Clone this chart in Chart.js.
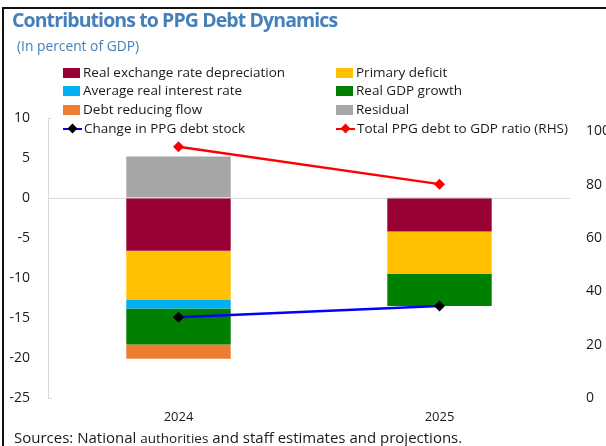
<!DOCTYPE html>
<html>
<head>
<meta charset="utf-8">
<script src="https://cdn.jsdelivr.net/npm/chart.js@4.4.1/dist/chart.umd.min.js"></script>
<style>
  html, body { margin: 0; padding: 0; width: 606px; height: 446px; overflow: hidden; background: #fff; font-family: "Open Sans", sans-serif; }
  #wrap { position: relative; width: 606px; height: 446px; }
  #chart { position: absolute; left: 0; top: 0; }
  #frame { position: absolute; left: 2px; top: 7px; width: 640px; height: 480px; border-left: 2px solid #111; border-top: 2px solid #111; pointer-events: none; }
  #title { position: absolute; left: 12px; top: 6px; font-size: 19.5px; font-weight: 700; color: #4580BB; white-space: nowrap; letter-spacing: -0.9px; }
  #subtitle { position: absolute; left: 17px; top: 36px; font-size: 13.8px; color: #4580BB; white-space: nowrap; }
  #legend .item { position: absolute; white-space: nowrap; font-size: 13.5px; color: #1a1a1a; line-height: 18px; height: 18px; }
  .sw { display: inline-block; width: 17px; height: 10px; vertical-align: -1px; margin-right: 3px; }
  .ln { display: inline-block; position: relative; width: 19px; height: 10px; vertical-align: -1px; margin-right: 2px; }
  .ln i { position: absolute; left: 0; right: 0; top: 4px; height: 2px; }
  .ln b { position: absolute; left: 6px; top: 1px; width: 7px; height: 7px; transform: rotate(45deg); }
  #source { position: absolute; left: 14px; top: 427px; font-size: 15px; color: #1a1a1a; white-space: nowrap; }
  #source span { font-size: 13.5px; }
</style>
</head>
<body>
<div id="wrap">
  <canvas id="chart" width="606" height="446"></canvas>
  <div id="title">Contributions to PPG Debt Dynamics</div>
  <div id="subtitle">(In percent of GDP)</div>
  <div id="legend"></div>
  <div id="source">Sources: National <span>authorities</span> and staff estimates and projections.</div>
  <div id="frame"></div>
</div>
<script>
// Years on the category axis
const categories = ['2024', '2025'];

// Contributions to the change in PPG debt (percent of GDP)
const realExchangeRate = [-6.6, -4.2];
const primaryDeficit   = [-6.1, -5.3];
const avgRealInterest  = [-1.1, 0.1];
const realGdpGrowth    = [-4.5, -4.0];
const debtReducingFlow = [-1.8, 0];
const residual         = [5.2, 0];

// Lines
const changeInDebtStock = [-14.9, -13.5];   // left axis
const totalDebtToGdp    = [94.2, 80.2];     // right axis (RHS)

// Axis tick values
const leftTicks  = [10, 5, 0, -5, -10, -15, -20, -25];
const rightTicks = [0, 20, 40, 60, 80, 100];

const TEXT = '#1a1a1a';
const AXIS_GREY = '#D9D9D9';

const barSeries = [
  { label: 'Real exchange rate depreciation', data: realExchangeRate, color: '#990033' },
  { label: 'Primary deficit',                 data: primaryDeficit,   color: '#FFC000' },
  { label: 'Average real interest rate',      data: avgRealInterest,  color: '#00B0F0' },
  { label: 'Real GDP growth',                 data: realGdpGrowth,    color: '#008000' },
  { label: 'Debt reducing flow',              data: debtReducingFlow, color: '#ED7D31' },
  { label: 'Residual',                        data: residual,         color: '#A6A6A6' }
];

const lineSeries = [
  { label: 'Change in PPG debt stock',             data: changeInDebtStock, line: '#0000FF', point: '#000000', axis: 'y' },
  { label: 'Total PPG debt to GDP ratio (RHS)',    data: totalDebtToGdp,    line: '#FF0000', point: '#FF0000', axis: 'y2' }
];

const datasets = [];
barSeries.forEach(s => datasets.push({
  type: 'bar', label: s.label, data: s.data, backgroundColor: s.color,
  borderWidth: 0, stack: 'contrib', order: 2,
  categoryPercentage: 1, barPercentage: 0.4, yAxisID: 'y'
}));
lineSeries.forEach((s, i) => datasets.push({
  type: 'line', label: s.label, data: s.data, yAxisID: s.axis,
  borderColor: s.line, borderWidth: 2.5, backgroundColor: s.point,
  pointStyle: 'rectRot', pointRadius: 5.5, pointBackgroundColor: s.point,
  pointBorderColor: s.point, pointBorderWidth: 0, fill: false, tension: 0,
  stack: 'line' + i, order: 1
}));

// Two-column legend, built from the series definitions
const legendOrder = [
  [barSeries[0], barSeries[1]],
  [barSeries[2], barSeries[3]],
  [barSeries[4], barSeries[5]],
  [lineSeries[0], lineSeries[1]]
];
const legendRowsY = [72, 90, 109, 128];
const legendColsX = [63, 336];
const legendEl = document.getElementById('legend');
legendOrder.forEach((row, r) => row.forEach((s, c) => {
  const el = document.createElement('div');
  el.className = 'item';
  el.style.left = legendColsX[c] + 'px';
  el.style.top = (legendRowsY[r] - 9) + 'px';
  let marker;
  if (s.line) {
    marker = '<span class="ln"><i style="background:' + s.line + '"></i><b style="background:' + s.point + '"></b></span>';
  } else {
    marker = '<span class="sw" style="background:' + s.color + '"></span>';
  }
  el.innerHTML = marker;
  el.appendChild(document.createTextNode(s.label));
  legendEl.appendChild(el);
}));

// Short end ticks on the left axis line
const axisEnds = {
  id: 'axisEnds',
  afterDraw(chart) {
    const { ctx, chartArea } = chart;
    ctx.save();
    ctx.strokeStyle = AXIS_GREY;
    ctx.lineWidth = 1;
    ctx.beginPath();
    ctx.moveTo(chartArea.left, chartArea.top + 0.5);
    ctx.lineTo(chartArea.left + 4, chartArea.top + 0.5);
    ctx.moveTo(chartArea.left, chartArea.bottom + 0.5);
    ctx.lineTo(chartArea.left + 4, chartArea.bottom + 0.5);
    ctx.stroke();
    ctx.restore();
  }
};

Chart.defaults.font.family = '"Open Sans", sans-serif';
Chart.defaults.color = TEXT;

new Chart(document.getElementById('chart'), {
  data: { labels: categories, datasets },
  options: {
    responsive: false,
    animation: false,
    layout: { padding: { top: 118, left: 0, right: 0, bottom: 0 } },
    plugins: { legend: { display: false }, tooltip: { enabled: false }, title: { display: false } },
    scales: {
      x: {
        stacked: true,
        grid: { display: false },
        border: { display: false },
        ticks: { padding: 3, font: { size: 13 }, color: TEXT },
        afterFit(scale) { scale.height = 48; }
      },
      y: {
        position: 'left',
        stacked: true,
        min: -25, max: 10,
        afterBuildTicks(scale) { scale.ticks = leftTicks.map(v => ({ value: v })); },
        grid: {
          drawTicks: false,
          color: ctx => (ctx.tick && ctx.tick.value === 0) ? AXIS_GREY : 'rgba(0,0,0,0)',
          lineWidth: 1
        },
        border: { display: true, color: AXIS_GREY, width: 1 },
        ticks: { padding: 18, font: { size: 14 }, color: TEXT },
        afterFit(scale) { scale.width = 48; }
      },
      y2: {
        position: 'right',
        min: 0, max: 105,
        afterBuildTicks(scale) { scale.ticks = rightTicks.map(v => ({ value: v })); },
        grid: { drawOnChartArea: false, drawTicks: false },
        border: { display: false },
        ticks: { padding: 16, font: { size: 14 }, color: TEXT },
        afterFit(scale) { scale.width = 36; }
      }
    }
  },
  plugins: [axisEnds]
});
</script>
</body>
</html>
